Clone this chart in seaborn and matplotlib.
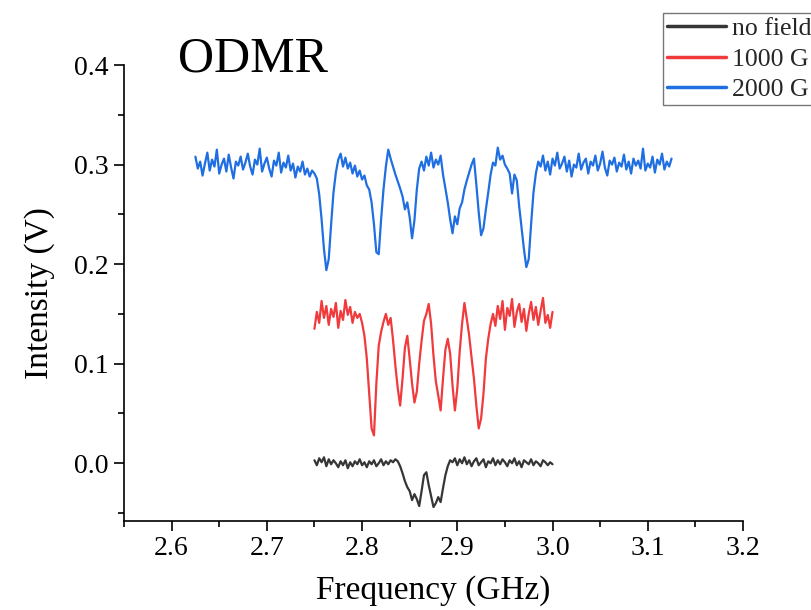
"""
ODMR spectra at three magnetic fields
"""
import numpy as np
import pandas as pd
import seaborn as sns
import matplotlib.pyplot as plt
from matplotlib.ticker import MultipleLocator


# series names and colours (legend order)
SERIES = ['no field', '1000 G', '2000 G']
COLORS = {'no field': '#363636', '1000 G': '#f03a3c', '2000 G': '#1f6fe2'}

# frequency sweeps (GHz), 0.0025 GHz step
blue_start, blue_stop = 2.625, 3.125
red_start, red_stop = 2.75, 3.0
black_start, black_stop = 2.75, 3.0

# 2000 G trace (V)
blue_values = [
    0.308, 0.296, 0.303, 0.289, 0.301, 0.312, 0.294, 0.305, 0.298, 0.315,
    0.291, 0.300, 0.306, 0.293, 0.310, 0.297, 0.286, 0.303, 0.299, 0.308,
    0.295, 0.302, 0.311, 0.298, 0.290, 0.305, 0.300, 0.316, 0.293, 0.301,
    0.307, 0.296, 0.288, 0.304, 0.299, 0.312, 0.292, 0.302, 0.297, 0.309,
    0.294, 0.301, 0.287, 0.298, 0.293, 0.303, 0.290, 0.296, 0.288, 0.294,
    0.291, 0.286, 0.270, 0.245, 0.215, 0.194, 0.205, 0.240, 0.272, 0.292,
    0.305, 0.311, 0.298, 0.307, 0.296, 0.302, 0.291, 0.299, 0.288, 0.294,
    0.285, 0.289, 0.279, 0.275, 0.262, 0.240, 0.212, 0.210, 0.245, 0.275,
    0.298, 0.315, 0.306, 0.298, 0.290, 0.283, 0.276, 0.268, 0.255, 0.262,
    0.247, 0.226, 0.244, 0.275, 0.296, 0.303, 0.294, 0.308, 0.299, 0.312,
    0.297, 0.305, 0.300, 0.309, 0.290, 0.276, 0.262, 0.245, 0.231, 0.248,
    0.240, 0.256, 0.262, 0.275, 0.284, 0.292, 0.300, 0.306, 0.280, 0.252,
    0.229, 0.236, 0.255, 0.272, 0.290, 0.302, 0.299, 0.317, 0.305, 0.309,
    0.300, 0.296, 0.291, 0.271, 0.290, 0.284, 0.258, 0.236, 0.215, 0.197,
    0.205, 0.240, 0.272, 0.291, 0.303,
    0.298, 0.309, 0.294, 0.303, 0.290, 0.306, 0.299, 0.312, 0.296, 0.301,
    0.308, 0.293, 0.304, 0.288, 0.300, 0.297, 0.311, 0.295, 0.302, 0.306,
    0.291, 0.303, 0.299, 0.309, 0.294, 0.301, 0.313, 0.297, 0.289, 0.304,
    0.300, 0.307, 0.293, 0.302, 0.298, 0.310, 0.295, 0.303, 0.291, 0.306,
    0.299, 0.304, 0.296, 0.316, 0.294, 0.301, 0.297, 0.308, 0.292, 0.305,
    0.300, 0.311, 0.295, 0.303, 0.298, 0.306,
]

# 1000 G trace (V)
red_values = [
    0.135, 0.152, 0.141, 0.163, 0.146, 0.158, 0.139, 0.155, 0.147, 0.161,
    0.136, 0.153, 0.144, 0.164, 0.149, 0.157, 0.141, 0.152, 0.146, 0.150,
    0.141, 0.128, 0.105, 0.070, 0.035, 0.028, 0.080, 0.118, 0.132, 0.142,
    0.150, 0.139, 0.146, 0.124, 0.098, 0.075, 0.058, 0.085, 0.116, 0.128,
    0.105, 0.080, 0.061, 0.072, 0.100, 0.123, 0.143, 0.150, 0.160, 0.140,
    0.108, 0.082, 0.068, 0.053, 0.085, 0.114, 0.125, 0.110, 0.078, 0.053,
    0.075, 0.112, 0.140, 0.161, 0.145, 0.128, 0.106, 0.085, 0.058, 0.035,
    0.045, 0.070, 0.105, 0.125, 0.140, 0.150,
    0.138, 0.158, 0.145, 0.163, 0.134, 0.156, 0.148, 0.165, 0.137, 0.152,
    0.160, 0.142, 0.155, 0.133, 0.150, 0.162, 0.144, 0.157, 0.139, 0.153,
    0.166, 0.141, 0.149, 0.136, 0.152,
]

# no field trace (V)
black_values = [
    0.003, -0.002, 0.005, 0.001, 0.006, -0.003, 0.004, -0.001, 0.003, 0.000,
    -0.004, 0.002, -0.002, 0.003, -0.005, 0.001, -0.003, 0.002, -0.001, 0.004,
    -0.002, 0.001, -0.004, 0.002, -0.001, 0.003, -0.003, 0.000, 0.004, -0.002,
    0.002, -0.001, 0.003, 0.001, 0.004, 0.002,
    -0.003, -0.010, -0.018, -0.024, -0.028, -0.037, -0.031, -0.036, -0.043, -0.028,
    -0.012, -0.009, -0.022, -0.033, -0.044, -0.040, -0.034, -0.039, -0.025, -0.012,
    -0.003, 0.003,
    0.001, 0.005, -0.002, 0.004, 0.000, 0.006, -0.001, 0.003, -0.003, 0.002,
    0.005, -0.002, 0.001, 0.004, -0.004, 0.002, 0.000, 0.005, -0.002, 0.003,
    -0.001, 0.004, 0.001, -0.003, 0.003, 0.000, 0.005, -0.002, 0.002, -0.004,
    0.003, 0.001, -0.001, 0.004, -0.002, 0.002, 0.000, -0.003, 0.003, 0.001,
    -0.002, 0.001, -0.001,
]

# ticks
xticks = [2.6, 2.7, 2.8, 2.9, 3.0, 3.1, 3.2]
xtick_labels = ['2.6', '2.7', '2.8', '2.9', '3.0', '3.1', '3.2']
yticks = [0.0, 0.1, 0.2, 0.3, 0.4]
ytick_labels = ['0.0', '0.1', '0.2', '0.3', '0.4']


# long-form table for seaborn
frames = []
for name, start, stop, vals in [('no field', black_start, black_stop, black_values),
                                ('1000 G', red_start, red_stop, red_values),
                                ('2000 G', blue_start, blue_stop, blue_values)]:
    frames.append(pd.DataFrame({
        'Frequency': np.linspace(start, stop, len(vals)),
        'Intensity': vals,
        'Field': name,
    }))
df = pd.concat(frames, ignore_index=True)

sns.set_theme(style='ticks')
plt.rcParams['font.family'] = ['Liberation Serif', 'DejaVu Serif']

fig = plt.figure(figsize=(8.12, 6.10), dpi=100)
ax = fig.add_axes([0.1527, 0.1459, 0.9150 - 0.1527, 0.8934 - 0.1459])

sns.lineplot(data=df, x='Frequency', y='Intensity', hue='Field', hue_order=SERIES,
             palette=COLORS, estimator=None, sort=False, linewidth=1.6, ax=ax)

ax.set_xlim(2.55, 3.2)
ax.set_ylim(-0.058, 0.4)
ax.set_xticks(xticks, labels=xtick_labels)
ax.set_yticks(yticks, labels=ytick_labels)
ax.xaxis.set_minor_locator(MultipleLocator(0.05))
ax.yaxis.set_minor_locator(MultipleLocator(0.05))
ax.tick_params(which='major', direction='out', length=7, width=1.2,
               labelsize=20, color='black', labelcolor='black', pad=4)
ax.tick_params(which='minor', direction='out', length=4, width=1.2, color='black')
sns.despine(ax=ax)
for side in ['left', 'bottom']:
    ax.spines[side].set_color('black')
    ax.spines[side].set_linewidth(1.2)

ax.set_xlabel('Frequency (GHz)', fontsize=24, color='black', labelpad=10)
ax.set_ylabel('Intensity (V)', fontsize=24, color='black', labelpad=14)

# big label in the top left
fig.text(178 / 812, 1 - 71 / 610, 'ODMR', fontsize=36, color='black', va='baseline', ha='left')

# legend sits at the top right corner and runs off the edge
handles, labels = ax.get_legend_handles_labels()
ax.get_legend().remove()
leg = fig.legend(handles, labels, loc='upper left', bbox_to_anchor=(663 / 812, 1 - 13 / 610),
                 frameon=True, fancybox=False, edgecolor='#555555', fontsize=18.5,
                 handlelength=2.3, handletextpad=0.25, borderpad=0.15,
                 labelspacing=0.3, borderaxespad=0)
leg.get_frame().set_linewidth(1.0)
for line in leg.get_lines():
    line.set_linewidth(2.5)

plt.savefig('out.png', dpi=100)
plt.close()
